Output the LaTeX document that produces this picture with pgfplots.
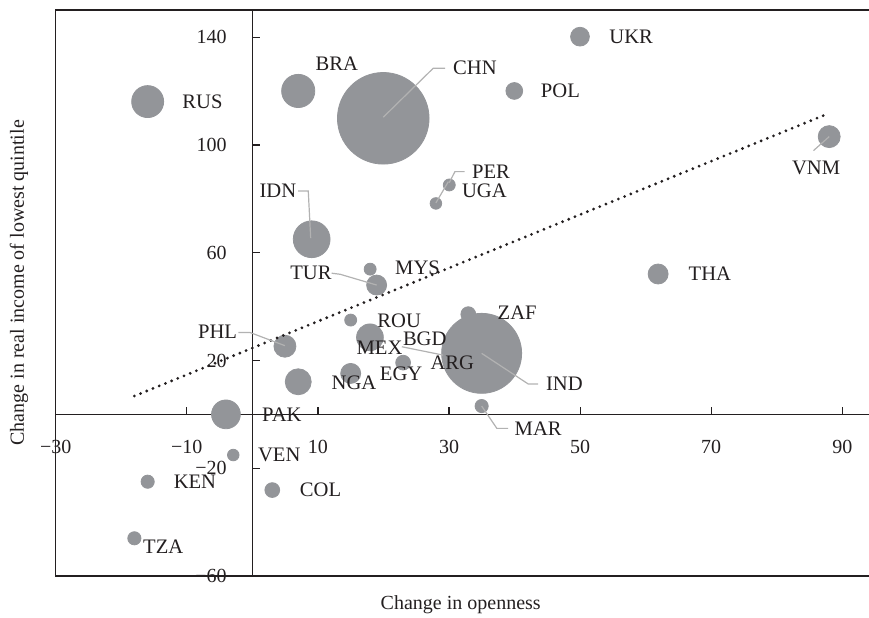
\documentclass[border=0pt]{standalone}
\usepackage{pgfplots}
\usepackage{pgfplotstable}
\pgfplotsset{compat=1.18}
\usepackage{fontspec}
\setmainfont{Liberation Serif}
\definecolor{bubble}{RGB}{147,149,153}
\definecolor{txt}{RGB}{35,31,32}
\definecolor{lead}{RGB}{178,178,178}
\newcommand{\lab}{\fontsize{10.3}{12}\selectfont}

\pgfplotstableread{
name x y r
RUS -15.97 116.1 8.0
BRA 7.0 120.05 8.3
CHN 19.97 109.9 22.9
UKR 49.98 140.2 4.7
POL 39.96 120.05 4.2
PER 30.04 85.15 3.0
UGA 28.0 78.3 2.9
VNM 88.0 103.1 5.5
IDN 9.05 65.0 9.2
MYS 17.97 53.9 3.0
TUR 18.96 48.0 5.0
THA 61.9 52.1 5.0
ZAF 32.94 37.2 3.7
ROU 15.0 35.0 3.0
MEX 17.94 28.6 6.7
EGY 15.0 15.2 5.0
ARG 23.0 19.2 3.7
NGA 7.0 12.1 6.5
PHL 4.97 25.3 5.5
PAK -4.03 0.0 7.2
VEN -2.91 -15.1 2.9
KEN -15.97 -25.0 3.3
COL 3.04 -28.1 3.7
TZA -18.0 -46.0 3.3
MAR 34.98 3.08 3.3
BGD 31.4 21.6 6.5
IND 34.98 22.65 20.0
}\bubbles

\begin{document}
\begin{tikzpicture}
\begin{axis}[
  at={(0,0)}, anchor=south west,
  scale only axis, width=406.65pt, height=283pt,
  xmin=-30, xmax=94.07, ymin=-60, ymax=150.1,
  enlargelimits=false,
  axis lines=middle,
  axis line style={-, line width=0.7pt, color=txt},
  clip=false,
  clip marker paths=true,
  tick align=inside,
  major tick length=3.7pt,
  tick style={line width=0.6pt, color=txt},
  xtick={-30,-10,10,30,50,70,90},
  xticklabels={−30,−10,10,30,50,70,90},
  ytick={-60,-20,20,60,100,140},
  yticklabels={−60,−20,20,60,100,140},
  xticklabel style={anchor=center, inner sep=0pt, yshift=-16.35pt, font=\fontsize{10}{12}\selectfont, text=txt},
  yticklabel style={anchor=east, inner sep=0pt, xshift=-12.7pt, font=\fontsize{10}{12}\selectfont, text=txt},
]
\draw[line width=0.7pt, txt] (rel axis cs:1,1) -- (rel axis cs:0,1) -- (rel axis cs:0,0) -- (rel axis cs:1,0);

\addplot[scatter, only marks, mark=*,
  scatter/use mapped color={draw=bubble, fill=bubble},
  visualization depends on={\thisrow{r} \as \rad},
  scatter/@pre marker code/.append style={/tikz/mark size=\rad, /tikz/line width=0pt}]
  table[x=x, y=y] {\bubbles};

\addplot[txt, line width=1.55pt, line cap=round, dash pattern=on 0pt off 3.35pt] coordinates {(-18,6.8) (88,111.8)};

% leader lines
\draw[lead, line width=0.6pt] (19.97,110.3) -- (27.6,128.5) -- (29.4,128.5);
\draw[lead, line width=0.6pt] (30.04,86.0) -- (30.9,90.1) -- (32.4,90.1);
\draw[lead, line width=0.6pt] (28.0,78.5) -- (29.9,86.4);
\draw[lead, line width=0.6pt] (7.0,82.9) -- (8.53,82.9) -- (8.9,65.4);
\draw[lead, line width=0.6pt] (12.1,52.4) -- (13.4,52.0) -- (18.96,48.0);
\draw[lead, line width=0.6pt] (88.0,103.1) -- (85.6,97.9);
\draw[lead, line width=0.6pt] (34.98,22.65) -- (42.1,11.25) -- (43.6,11.25);
\draw[lead, line width=0.6pt] (34.98,3.08) -- (37.3,-5.2) -- (39.0,-5.2);
\draw[lead, line width=0.6pt] (-2.15,30.4) -- (-0.37,30.4) -- (4.97,25.5);
\draw[lead, line width=0.6pt] (22.8,25.1) -- (29.1,22.0);

% country labels
\begin{scope}[every node/.style={font=\lab, text=txt, inner sep=0pt}]
\node at (-7.61,116.1) {RUS};
\node at (12.9,130.3) {BRA};
\node at (33.96,128.5) {CHN};
\node at (57.8,140.1) {UKR};
\node at (47.0,120.05) {POL};
\node at (36.4,90.0) {PER};
\node at (35.4,83.0) {UGA};
\node at (86.0,91.5) {VNM};
\node at (3.9,83.0) {IDN};
\node at (8.94,52.5) {TUR};
\node at (25.2,54.4) {MYS};
\node at (69.8,52.1) {THA};
\node at (40.4,37.6) {ZAF};
\node at (22.4,34.6) {ROU};
\node at (19.4,24.6) {MEX};
\node at (26.3,28.0) {BGD};
\node at (30.5,19.05) {ARG};
\node at (22.7,15.0) {EGY};
\node at (15.5,11.6) {NGA};
\node at (47.6,11.25) {IND};
\node at (43.6,-5.4) {MAR};
\node at (-5.3,30.6) {PHL};
\node at (4.5,-0.26) {PAK};
\node at (4.1,-15.1) {VEN};
\node at (-8.76,-25.1) {KEN};
\node at (10.4,-28.1) {COL};
\node at (-13.6,-49.3) {TZA};
\end{scope}

\node[font=\fontsize{10}{12}\selectfont, text=txt] at ([yshift=-14.5pt]rel axis cs:0.498,0) {Change in openness};
\node[rotate=90, font=\fontsize{10}{12}\selectfont, text=txt] at ([xshift=-18.35pt]rel axis cs:0,0.518) {Change in real income of lowest quintile};
\end{axis}
\pgfresetboundingbox
\path[use as bounding box] (-27.85pt,-20.5pt) rectangle (406.65pt,288pt);
\end{tikzpicture}
\end{document}
